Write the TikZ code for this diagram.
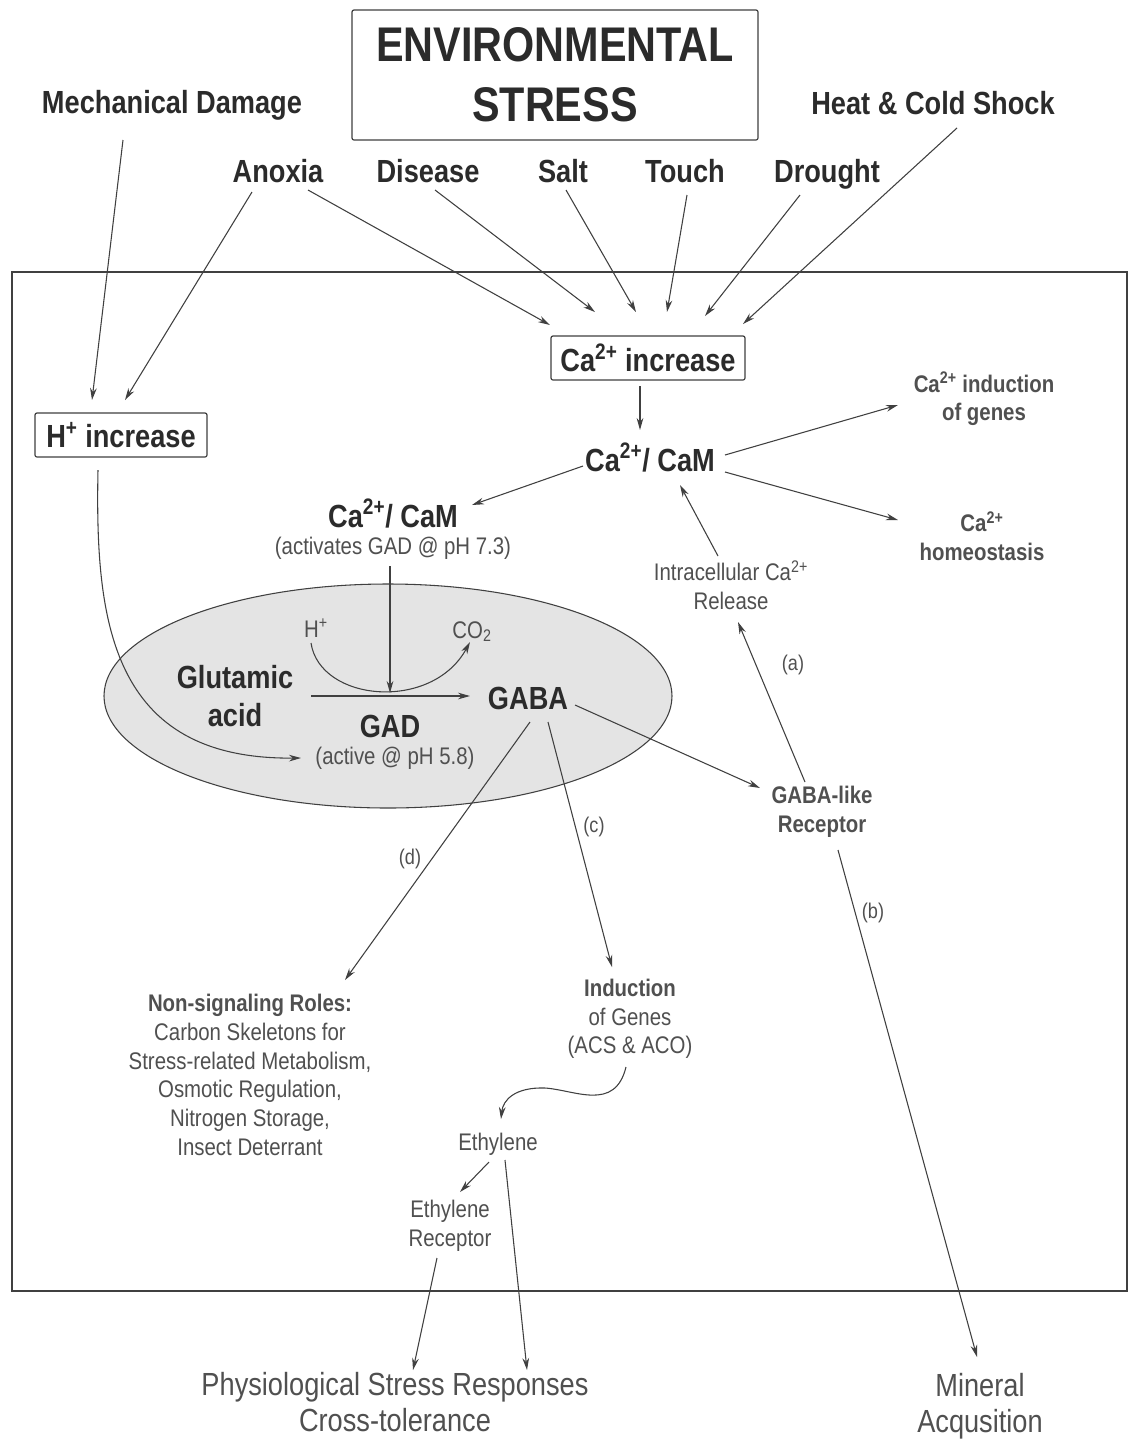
\documentclass[tikz,border=0pt]{standalone}
\usepackage{fontspec}
\setmainfont{Liberation Sans}
\newfontfamily\cf{Liberation Sans}[FakeStretch=0.85]
\usetikzlibrary{arrows.meta,shapes.geometric}
\definecolor{ink}{HTML}{2B2B2B}
\definecolor{soft}{HTML}{505050}
\definecolor{linec}{HTML}{404040}
\definecolor{cellfill}{HTML}{E4E4E4}
\tikzset{
 bigtxt/.style={font=\cf\bfseries\fontsize{36.5}{45}\selectfont, text=ink, align=center},
 lab/.style={font=\cf\bfseries\fontsize{24}{28}\selectfont, text=ink, inner sep=0pt},
 smb/.style={font=\cf\bfseries\fontsize{18}{21.5}\selectfont, text=soft, align=center, inner sep=0pt},
 sm/.style={font=\cf\fontsize{18}{21.5}\selectfont, text=soft, align=center, inner sep=0pt},
 bot/.style={font=\cf\fontsize{24}{27}\selectfont, text=soft, align=center, inner sep=0pt},
 letter/.style={font=\cf\fontsize{16}{18}\selectfont, text=soft, inner sep=0pt},
 arr/.style={draw=linec, line width=0.8pt, -{Stealth[length=9pt,width=5pt]}},
 boxn/.style={draw=linec, line width=0.9pt, rounded corners=1.5pt, inner sep=0pt},
}
\begin{document}
\begin{tikzpicture}[x=0.75pt,y=-0.75pt]
\useasboundingbox[fill=white] (0,0) rectangle (1129,1440);

% outer cell
\node[draw=linec, line width=0.9pt, minimum width=836.25pt, minimum height=764.25pt, inner sep=0pt] (cell) at (569.5,781.5) {};

% ellipse (cytosol compartment)
\node[draw=linec, fill=cellfill, line width=0.8pt, ellipse, minimum width=426pt, minimum height=168pt, inner sep=0pt] (comp) at (388,696) {};

% top labels
\node[boxn, bigtxt, minimum width=304.5pt, minimum height=97.5pt] (env) at (555,75) {ENVIRONMENTAL\\STRESS};
\node[lab, anchor=base] (mech) at (172,113) {Mechanical Damage};
\node[lab, anchor=base] (heat) at (933,114) {Heat \& Cold Shock};
\node[lab, anchor=base] (anoxia) at (278,182) {Anoxia};
\node[lab, anchor=base] (disease) at (428,182) {Disease};
\node[lab, anchor=base] (salt) at (563,182) {Salt};
\node[lab, anchor=base] (touch) at (685,182) {Touch};
\node[lab, anchor=base] (drought) at (827,182) {Drought};

% boxes
\node[boxn, lab, minimum width=145.5pt, minimum height=33pt] (caincr) at (648,358) {Ca\textsuperscript{2+} increase};
\node[boxn, lab, minimum width=129pt, minimum height=33pt] (hincr) at (121,435) {H\textsuperscript{+} increase};

% calmodulin
\node[lab, anchor=base] (cam) at (650,471) {Ca\textsuperscript{2+}/ CaM};
\node[lab, anchor=base] (camtwo) at (393,527) {Ca\textsuperscript{2+}/ CaM};
\node[sm, anchor=base] (camnote) at (393,554) {(activates GAD @ pH 7.3)};
\node[smb] (induct) at (984,399) {Ca\textsuperscript{2+} induction\\of genes};
\node[smb] (homeo) at (982,536) {Ca\textsuperscript{2+}\\homeostasis};
\node[sm] (intra) at (731,585) {Intracellular Ca\textsuperscript{2+}\\Release};
\node[smb] (rec) at (822,812) {GABA-like\\Receptor};

% inside compartment
\node[lab, align=center, font=\cf\bfseries\fontsize{24}{28}\selectfont] (glu) at (235,696) {Glutamic\\acid};
\node[lab, anchor=base] (gaba) at (528,709) {GABA};
\node[lab, anchor=base] (gad) at (390,737) {GAD};
\node[sm, anchor=base] (gadnote) at (395,764) {(active @ pH 5.8)};
\node[sm, anchor=base] (hin) at (316,637) {H\textsuperscript{+}};
\node[sm, anchor=base] (co) at (472,638) {CO\textsubscript{2}};

% lower part
\node[sm] (nonsig) at (250,1075) {\textbf{Non-signaling Roles:}\\Carbon Skeletons for\\Stress-related Metabolism,\\Osmotic Regulation,\\Nitrogen Storage,\\Insect Deterrant};
\node[sm] (genes) at (630,1019) {\textbf{Induction}\\of Genes\\(ACS \& ACO)};
\node[sm, anchor=base] (eth) at (498,1150) {Ethylene};
\node[sm] (ethrec) at (450,1226) {Ethylene\\Receptor};
\node[bot] (phys) at (395,1402) {Physiological Stress Responses\\Cross-tolerance};
\node[bot] (mineral) at (980,1406) {Mineral\\Acqusition};

% letters
\node[letter, anchor=base] (la) at (793,670) {(a)};
\node[letter, anchor=base] (lb) at (873,918) {(b)};
\node[letter, anchor=base] (lc) at (594,832) {(c)};
\node[letter, anchor=base] (ld) at (410,864) {(d)};

% connector end coordinates
\coordinate (mechS) at (123,140);   \coordinate (hA) at (92,400);
\coordinate (anoL) at (252,192);    \coordinate (hB) at (125,400);
\coordinate (anoR) at (308,190);    \coordinate (c1) at (550,325);
\coordinate (disS) at (435,190);    \coordinate (c2) at (595,312);
\coordinate (salS) at (566,190);    \coordinate (c3) at (636,312);
\coordinate (touS) at (687,195);    \coordinate (c4) at (667,312);
\coordinate (droS) at (800,195);    \coordinate (c5) at (705,316);
\coordinate (heaS) at (957,128);    \coordinate (c6) at (743,324);

\draw[arr] (mechS) -- (hA);
\draw[arr] (anoL) -- (hB);
\draw[arr] (anoR) -- (c1);
\draw[arr] (disS) -- (c2);
\draw[arr] (salS) -- (c3);
\draw[arr] (touS) -- (c4);
\draw[arr] (droS) -- (c5);
\draw[arr] (heaS) -- (c6);

\coordinate (caB) at (640,386);   \coordinate (camT) at (640,430);
\draw[arr] (caB) -- (camT);
\coordinate (camR1) at (725,455); \coordinate (indW) at (898,405);
\draw[arr] (camR1) -- (indW);
\coordinate (camR2) at (725,472); \coordinate (homW) at (898,520);
\draw[arr] (camR2) -- (homW);
\coordinate (camL) at (583,466);  \coordinate (camtwoE) at (472,505);
\draw[arr] (camL) -- (camtwoE);
\coordinate (noteB) at (390,566); \coordinate (gadT) at (390,693);
\draw[arr] (noteB) -- (gadT);
\coordinate (intraT) at (718,556); \coordinate (camB) at (680,485);
\draw[arr] (intraT) -- (camB);
\coordinate (recT) at (805,782);  \coordinate (intraB) at (738,622);
\draw[arr] (recT) -- (intraB);
\coordinate (gabaR) at (575,705); \coordinate (recW) at (760,788);
\draw[arr] (gabaR) -- (recW);
\coordinate (recB) at (838,850);  \coordinate (minT) at (977,1357);
\draw[arr] (recB) -- (minT);
\coordinate (gabaB1) at (530,722); \coordinate (nonT) at (345,980);
\draw[arr] (gabaB1) -- (nonT);
\coordinate (gabaB2) at (548,722); \coordinate (genT) at (612,967);
\draw[arr] (gabaB2) -- (genT);
\coordinate (genB) at (626,1067); \coordinate (ethT) at (501,1119);
\draw[arr] (genB) .. controls (615,1112) and (575,1090) .. (545,1088) .. controls (515,1087) and (503,1100) .. (ethT);
\coordinate (ethL) at (489,1162); \coordinate (ethrecT) at (460,1192);
\draw[arr] (ethL) -- (ethrecT);
\coordinate (ethR) at (505,1160); \coordinate (physT2) at (527,1370);
\draw[arr] (ethR) -- (physT2);
\coordinate (ethrecB) at (437,1258); \coordinate (physT1) at (413,1370);
\draw[arr] (ethrecB) -- (physT1);

% H+ increase curve into GAD
\coordinate (hincrB) at (98,470); \coordinate (gadW) at (301,758);
\draw[arr] (hincrB) .. controls (95,620) and (110,760) .. (gadW);
% decarboxylation curve
\coordinate (hinB) at (311,643); \coordinate (coB) at (470,642);
\draw[arr] (hinB) .. controls (320,702) and (432,712) .. (coB);
% glutamic acid -> GABA
\coordinate (gluE) at (311,696); \coordinate (gabaW) at (470,696);
\draw[arr] (gluE) -- (gabaW);
\end{tikzpicture}
\end{document}
